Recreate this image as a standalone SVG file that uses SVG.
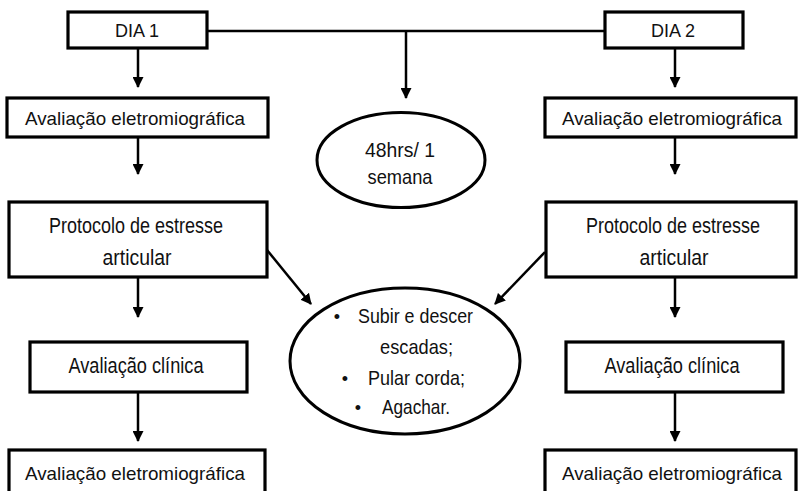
<svg xmlns="http://www.w3.org/2000/svg" width="798" height="491" viewBox="0 0 798 491">
<defs>
<marker id="ah" markerWidth="11" markerHeight="11" refX="10" refY="5.5" orient="auto" markerUnits="userSpaceOnUse">
<path d="M0,0 L11,5.5 L0,11 Z" fill="#000"/>
</marker>
<style>
.box{fill:#fff;stroke:#000;stroke-width:3.2}
.ell{fill:#fff;stroke:#000;stroke-width:3}
.t{font-family:"Liberation Sans",Arial,sans-serif;font-size:22px;fill:#111;text-anchor:middle}
.m{font-family:"Liberation Sans",Arial,sans-serif;font-size:19px;fill:#111;text-anchor:middle}
.d{font-family:"Liberation Sans",Arial,sans-serif;font-size:18px;fill:#111;text-anchor:middle}
.e{font-family:"Liberation Sans",Arial,sans-serif;font-size:21px;fill:#111;text-anchor:middle}
.b{font-family:"Liberation Sans",Arial,sans-serif;font-size:18px;fill:#111;text-anchor:middle}
.c{stroke:#000;stroke-width:2.5;fill:none}
.a{stroke:#000;stroke-width:2.5;fill:none;marker-end:url(#ah)}
</style>
</defs>
<rect width="798" height="491" fill="#fff"/>
<g id="connectors">
<line class="c" x1="207" y1="31" x2="605" y2="31"/>
<line class="a" x1="406" y1="31" x2="406" y2="98"/>
<line class="a" x1="138" y1="48" x2="138" y2="87"/>
<line class="a" x1="138" y1="137" x2="138" y2="174"/>
<line class="a" x1="138" y1="277" x2="138" y2="317"/>
<line class="a" x1="138" y1="392" x2="138" y2="441"/>
<line class="a" x1="675" y1="48" x2="675" y2="87"/>
<line class="a" x1="675" y1="137" x2="675" y2="174"/>
<line class="a" x1="675" y1="277" x2="675" y2="317"/>
<line class="a" x1="675" y1="392" x2="675" y2="441"/>
<line class="a" x1="267" y1="250" x2="311" y2="304"/>
<line class="a" x1="545" y1="252" x2="495" y2="304"/>
</g>
<g id="dia1"><rect class="box" x="68" y="12" width="139" height="36"/><text class="d" x="137" y="37">DIA 1</text></g>
<g id="dia2"><rect class="box" x="605" y="12" width="138" height="36"/><text class="d" x="673" y="37">DIA 2</text></g>
<g id="emg1l"><rect class="box" x="7" y="98" width="261" height="39"/><text class="m" x="135" y="125" textLength="220" lengthAdjust="spacingAndGlyphs">Avaliação eletromiográfica</text></g>
<g id="emg1r"><rect class="box" x="545" y="98" width="251" height="39"/><text class="m" x="672" y="125" textLength="220" lengthAdjust="spacingAndGlyphs">Avaliação eletromiográfica</text></g>
<g id="protl"><rect class="box" x="9" y="202" width="258" height="75"/><text class="t" x="136" y="233" textLength="174" lengthAdjust="spacingAndGlyphs">Protocolo de estresse</text><text class="t" x="137" y="265" textLength="69" lengthAdjust="spacingAndGlyphs">articular</text></g>
<g id="protr"><rect class="box" x="546" y="202" width="250" height="75"/><text class="t" x="673" y="233" textLength="174" lengthAdjust="spacingAndGlyphs">Protocolo de estresse</text><text class="t" x="674" y="265" textLength="69" lengthAdjust="spacingAndGlyphs">articular</text></g>
<g id="clinl"><rect class="box" x="30" y="342" width="217" height="50"/><text class="t" x="136" y="373" textLength="135" lengthAdjust="spacingAndGlyphs">Avaliação clínica</text></g>
<g id="clinr"><rect class="box" x="566" y="342" width="217" height="50"/><text class="t" x="672" y="373" textLength="135" lengthAdjust="spacingAndGlyphs">Avaliação clínica</text></g>
<g id="emg2l"><rect class="box" x="9" y="450" width="256" height="46"/><text class="m" x="135" y="480" textLength="220" lengthAdjust="spacingAndGlyphs">Avaliação eletromiográfica</text></g>
<g id="emg2r"><rect class="box" x="545" y="450" width="251" height="46"/><text class="m" x="672" y="480" textLength="220" lengthAdjust="spacingAndGlyphs">Avaliação eletromiográfica</text></g>
<g id="interval"><ellipse class="ell" cx="401" cy="160" rx="84" ry="47.5"/><text class="e" x="400" y="157" textLength="70" lengthAdjust="spacingAndGlyphs">48hrs/ 1</text><text class="e" x="400" y="184" textLength="65" lengthAdjust="spacingAndGlyphs">semana</text></g>
<g id="exercicios"><ellipse class="ell" cx="405" cy="361" rx="115" ry="73"/>
<text class="b" x="337" y="323">•</text><text class="e" x="415.5" y="323" textLength="115" lengthAdjust="spacingAndGlyphs">Subir e descer</text>
<text class="e" x="416.5" y="354" textLength="73" lengthAdjust="spacingAndGlyphs">escadas;</text>
<text class="b" x="345" y="385">•</text><text class="e" x="416.5" y="385" textLength="97" lengthAdjust="spacingAndGlyphs">Pular corda;</text>
<text class="b" x="358" y="414">•</text><text class="e" x="416" y="414" textLength="68" lengthAdjust="spacingAndGlyphs">Agachar.</text>
</g>
</svg>
